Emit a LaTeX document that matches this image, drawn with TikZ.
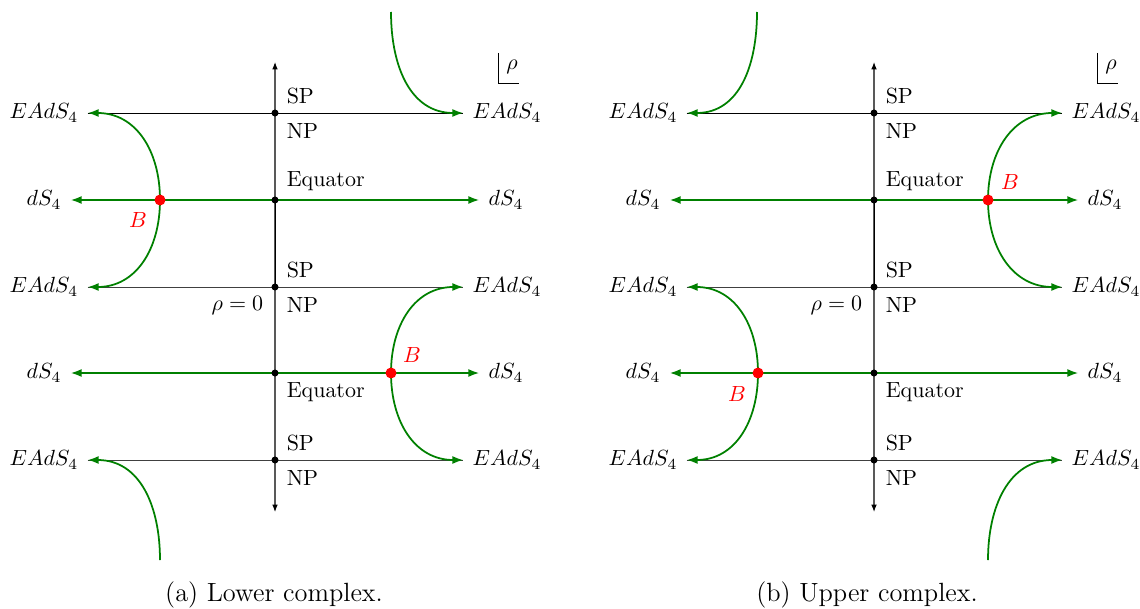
\documentclass[tikz,border=0pt]{standalone}
\usepackage{amsmath}
\usepackage{xcolor}
\usepackage{tikz}
\usetikzlibrary{arrows.meta,positioning}

\definecolor{flowgreen}{RGB}{0,128,0}

\tikzset{
  dot/.style={circle,fill=black,inner sep=0pt,minimum size=3.2pt},
  bdot/.style={circle,fill=red,inner sep=0pt,minimum size=5pt},
  lbl/.style={inner xsep=4pt,inner ysep=2pt},
  axisline/.style={draw=black!65,line width=0.5pt,
    {Latex[length=3.4pt,width=2.6pt,color=black]}-{Latex[length=3.4pt,width=2.6pt,color=black]}},
  poleline/.style={line width=0.45pt},
  flowline/.style={flowgreen,line width=0.8pt},
  flowarrow/.style={flowline,looseness=1.1,-{Latex[length=5pt,width=3.6pt]}},
  flowboth/.style={flowline,{Latex[length=5pt,width=3.6pt]}-{Latex[length=5pt,width=3.6pt]}},
}

\begin{document}
\begin{tikzpicture}[x=0.016cm,y=0.016cm,>=Latex]
\useasboundingbox (0,0) rectangle (1140,608);

% (a) Lower complex
% Axis
\coordinate (aTop) at (275,546);
\coordinate (aBot) at (275,96);
\coordinate (aS1) at (275,495);
\coordinate (aS2) at (275,408);
\coordinate (aS3) at (275,321);
\coordinate (aS4) at (275,235);
\coordinate (aS5) at (275,148);
\draw[axisline] (aBot) -- (aTop);
\draw[poleline] (aS2) -- (aS3);

% Row labels
\node[lbl] (aEl1) at (44,495) {$EAdS_4$};
\node[lbl] (aEr1) at (507,495) {$EAdS_4$};
\node[lbl] (aDl2) at (44,408) {$dS_4$};
\node[lbl] (aDr2) at (506,408) {$dS_4$};
\node[lbl] (aEl3) at (44,321) {$EAdS_4$};
\node[lbl] (aEr3) at (507,321) {$EAdS_4$};
\node[lbl] (aDl4) at (44,235) {$dS_4$};
\node[lbl] (aDr4) at (506,235) {$dS_4$};
\node[lbl] (aEl5) at (44,148) {$EAdS_4$};
\node[lbl] (aEr5) at (507,148) {$EAdS_4$};

% Rows
\draw[poleline] (aEl1) -- (aEr1);
\draw[poleline,black!75] (aEl3) -- (aEr3);
\draw[poleline,black!75] (aEl5) -- (aEr5);
\draw[flowboth] (aDl2) -- (aDr2);
\draw[flowboth] (aDl4) -- (aDr4);

% Flows
\coordinate (aB2) at (160,408);
\coordinate (aB4) at (391,235);
\coordinate (aIn) at (391,596);
\coordinate (aOut) at (160,48);
\draw[flowarrow] (aB2) to[out=90,in=0] (aEl1.east);
\draw[flowarrow] (aB2) to[out=-90,in=0] (aEl3.east);
\draw[flowarrow] (aB4) to[out=90,in=180] (aEr3.west);
\draw[flowarrow] (aB4) to[out=-90,in=180] (aEr5.west);
\draw[flowarrow] (aIn) to[out=-90,in=180] (aEr1.west);
\draw[flowarrow] (aOut) to[out=90,in=0] (aEl5.east);

% Dots
\node[dot] (aP1) at (aS1) {};
\node[dot] (aP2) at (aS2) {};
\node[dot] (aP3) at (aS3) {};
\node[dot] (aP4) at (aS4) {};
\node[dot] (aP5) at (aS5) {};
\node[bdot] (aBd2) at (aB2) {};
\node[bdot] (aBd4) at (aB4) {};
\node[red] (aBl2) at (138,388) {$B$};
\node[red] (aBl4) at (412,253) {$B$};

% Axis labels
\node[anchor=west] (aSP1) at (279,512) {SP};
\node[anchor=west] (aNP1) at (279,477) {NP};
\node[anchor=west] (aEq2) at (279,427) {Equator};
\node[anchor=west] (aSP3) at (279,338) {SP};
\node[anchor=west] (aNP3) at (279,303) {NP};
\node[anchor=east] (aRho) at (271,302) {$\rho=0$};
\node[anchor=west] (aEq4) at (279,216) {Equator};
\node[anchor=west] (aSP5) at (279,165) {SP};
\node[anchor=west] (aNP5) at (279,130) {NP};

% rho mark
\coordinate (aM1) at (498,555);
\coordinate (aM2) at (498,525);
\coordinate (aM3) at (519,525);
\draw[poleline] (aM1) -- (aM2) -- (aM3);
\node (aRhoMark) at (512,541) {$\rho$};

\node (aCap) at (274,13) {\large (a) Lower complex.};

% (b) Upper complex
% Axis
\coordinate (bTop) at (874,546);
\coordinate (bBot) at (874,96);
\coordinate (bS1) at (874,495);
\coordinate (bS2) at (874,408);
\coordinate (bS3) at (874,321);
\coordinate (bS4) at (874,235);
\coordinate (bS5) at (874,148);
\draw[axisline] (bBot) -- (bTop);
\draw[poleline] (bS2) -- (bS3);

% Row labels
\node[lbl] (bEl1) at (643,495) {$EAdS_4$};
\node[lbl] (bEr1) at (1106,495) {$EAdS_4$};
\node[lbl] (bDl2) at (643,408) {$dS_4$};
\node[lbl] (bDr2) at (1105,408) {$dS_4$};
\node[lbl] (bEl3) at (643,321) {$EAdS_4$};
\node[lbl] (bEr3) at (1106,321) {$EAdS_4$};
\node[lbl] (bDl4) at (643,235) {$dS_4$};
\node[lbl] (bDr4) at (1105,235) {$dS_4$};
\node[lbl] (bEl5) at (643,148) {$EAdS_4$};
\node[lbl] (bEr5) at (1106,148) {$EAdS_4$};

% Rows
\draw[poleline] (bEl1) -- (bEr1);
\draw[poleline,black!75] (bEl3) -- (bEr3);
\draw[poleline,black!75] (bEl5) -- (bEr5);
\draw[flowboth] (bDl2) -- (bDr2);
\draw[flowboth] (bDl4) -- (bDr4);

% Flows
\coordinate (bB2) at (988,408);
\coordinate (bB4) at (758,235);
\coordinate (bIn) at (757,596);
\coordinate (bOut) at (988,48);
\draw[flowarrow] (bB2) to[out=90,in=180] (bEr1.west);
\draw[flowarrow] (bB2) to[out=-90,in=180] (bEr3.west);
\draw[flowarrow] (bB4) to[out=90,in=0] (bEl3.east);
\draw[flowarrow] (bB4) to[out=-90,in=0] (bEl5.east);
\draw[flowarrow] (bIn) to[out=-90,in=0] (bEl1.east);
\draw[flowarrow] (bOut) to[out=90,in=180] (bEr5.west);

% Dots
\node[dot] (bP1) at (bS1) {};
\node[dot] (bP2) at (bS2) {};
\node[dot] (bP3) at (bS3) {};
\node[dot] (bP4) at (bS4) {};
\node[dot] (bP5) at (bS5) {};
\node[bdot] (bBd2) at (bB2) {};
\node[bdot] (bBd4) at (bB4) {};
\node[red] (bBl2) at (1010,426) {$B$};
\node[red] (bBl4) at (737,214) {$B$};

% Axis labels
\node[anchor=west] (bSP1) at (878,512) {SP};
\node[anchor=west] (bNP1) at (878,477) {NP};
\node[anchor=west] (bEq2) at (878,427) {Equator};
\node[anchor=west] (bSP3) at (878,338) {SP};
\node[anchor=west] (bNP3) at (878,303) {NP};
\node[anchor=east] (bRho) at (870,302) {$\rho=0$};
\node[anchor=west] (bEq4) at (878,216) {Equator};
\node[anchor=west] (bSP5) at (878,165) {SP};
\node[anchor=west] (bNP5) at (878,130) {NP};

% rho mark
\coordinate (bM1) at (1097,555);
\coordinate (bM2) at (1097,525);
\coordinate (bM3) at (1118,525);
\draw[poleline] (bM1) -- (bM2) -- (bM3);
\node (bRhoMark) at (1111,541) {$\rho$};

\node (bCap) at (867,13) {\large (b) Upper complex.};

\end{tikzpicture}
\end{document}
